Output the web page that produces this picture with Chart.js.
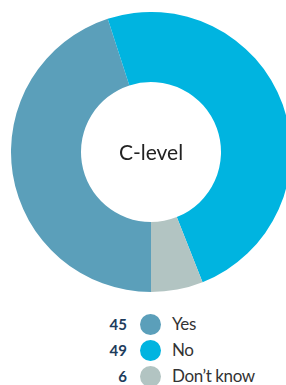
<!DOCTYPE html>
<html>
<head>
<meta charset="utf-8">
<script src="https://cdn.jsdelivr.net/npm/chart.js@4/dist/chart.umd.min.js"></script>
<style>
  html, body { margin: 0; padding: 0; background: #fff; }
  body { width: 286px; height: 385px; position: relative; overflow: hidden; font-family: "Lato", "Noto Sans", sans-serif; }
  #grafico { position: absolute; left: 11px; top: 12px; }
  #centro { position: absolute; left: 81px; top: 132px; width: 140px; text-align: center; font-size: 21px; color: #222; line-height: 40px; }
  #legenda { position: absolute; left: 0; top: 312px; width: 286px; }
  .linha { position: relative; height: 26px; }
  .num { position: absolute; right: 159px; top: 2px; font-size: 15px; font-weight: bold; color: #1d3c5c; line-height: 20px; }
  .bola { position: absolute; left: 140px; top: 2px; width: 21px; height: 21px; border-radius: 50%; }
  .txt { position: absolute; left: 172px; top: 1px; font-size: 17px; color: #333; line-height: 22px; letter-spacing: -0.4px; }
</style>
</head>
<body>
<canvas id="grafico" width="280" height="280"></canvas>
<div id="centro">C-level</div>
<div id="legenda"></div>
<script>
// Dados
const categorias = ['Yes', 'No', 'Don\u2019t know'];
const valores = [45, 49, 6];
const cores = ['#5b9fba', '#00b4e0', '#b2c4c2'];

// Legenda
const legenda = document.getElementById('legenda');
categorias.forEach((cat, i) => {
    const linha = document.createElement('div');
    linha.className = 'linha';
    linha.innerHTML = '<span class="num">' + valores[i] + '</span>' +
        '<span class="bola" style="background:' + cores[i] + '"></span>' +
        '<span class="txt">' + cat + '</span>';
    legenda.appendChild(linha);
});

// Gráfico
const ctx = document.getElementById('grafico').getContext('2d');
new Chart(ctx, {
    type: 'doughnut',
    data: {
        labels: categorias,
        datasets: [{
            data: valores,
            backgroundColor: cores,
            borderWidth: 0
        }]
    },
    options: {
        responsive: false,
        animation: false,
        rotation: 180,
        cutout: '50%',
        plugins: {
            legend: { display: false },
            tooltip: { enabled: false }
        }
    }
});
</script>
</body>
</html>
